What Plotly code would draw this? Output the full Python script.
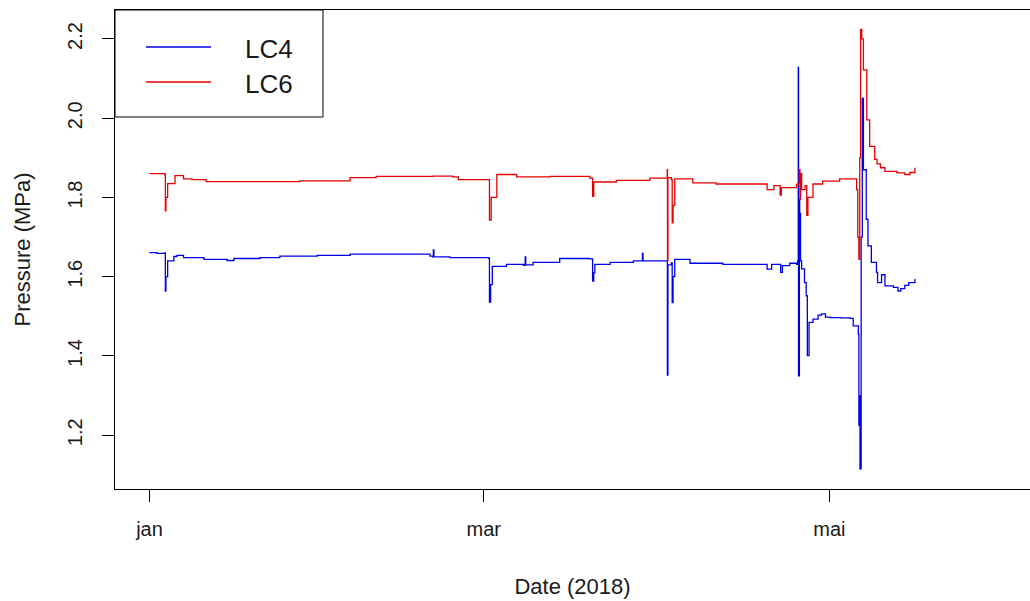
import pandas as pd
import plotly.graph_objects as go

# ---- data (days since 2018-01-01, pressure in MPa) ----
lc4_days = [0.0, 1.3, 2.7, 2.8, 2.9, 3.2, 4.3, 4.85, 6.0, 9.6, 11.9, 13.7, 14.9, 19.5, 23.0,
            29.6, 35.4, 40.7, 49.5, 50.0, 50.1, 50.2, 53.0, 59.9, 60.0, 60.2, 60.5, 63.0,
            66.0, 66.3, 66.4, 67.7, 72.4, 77.7, 78.2, 78.4, 78.6, 81.3, 85.4, 86.9, 87.0,
            87.1, 91.3, 91.4, 91.5, 92.1, 92.25, 92.4, 92.7, 95.4, 101.2, 108.3, 109.0,
            109.8, 111.4, 111.7, 113.0, 114.2, 114.4, 114.5, 114.55, 114.7, 114.75, 114.8,
            114.9, 115.1, 115.6, 115.9, 116.1, 116.4, 117.1, 118.0, 118.6, 119.3, 120.1,
            122.0, 123.6, 124.2, 125.1, 125.2, 125.3, 125.4, 125.6, 125.8, 126.0, 126.5,
            126.8, 127.4, 128.3, 128.5, 129.2, 129.8, 131.3, 132.1, 132.6, 133.3, 134.0, 135.1]
lc4_vals = [1.661, 1.659, 1.660, 1.564, 1.600, 1.640, 1.651, 1.654, 1.648, 1.644, 1.644, 1.641,
            1.646, 1.648, 1.652, 1.654, 1.657, 1.657, 1.652, 1.650, 1.668, 1.650, 1.648, 1.646,
            1.536, 1.580, 1.626, 1.631, 1.629, 1.650, 1.630, 1.636, 1.646, 1.645, 1.589, 1.610,
            1.631, 1.636, 1.640, 1.640, 1.659, 1.640, 1.640, 1.352, 1.630, 1.635, 1.535, 1.600,
            1.644, 1.634, 1.631, 1.631, 1.619, 1.631, 1.611, 1.628, 1.634, 1.631, 1.640, 2.128,
            1.350, 1.795, 1.660, 1.760, 1.640, 1.620, 1.585, 1.552, 1.401, 1.485, 1.493, 1.503,
            1.506, 1.498, 1.497, 1.496, 1.495, 1.476, 1.455, 1.225, 1.300, 1.115, 1.700, 2.050,
            1.870, 1.745, 1.678, 1.636, 1.611, 1.585, 1.605, 1.577, 1.573, 1.564, 1.570, 1.578,
            1.585, 1.594]

lc6_days = [0.0, 2.7, 2.8, 2.9, 3.2, 4.5, 6.0, 7.5, 10.0, 22.5, 26.5, 35.4, 40.0, 50.0, 53.5,
            54.5, 59.9, 60.0, 60.3, 61.3, 64.8, 70.7, 77.7, 78.2, 78.4, 82.4, 88.3, 91.3, 91.38,
            91.42, 91.5, 92.1, 92.25, 92.4, 92.7, 95.9, 100.0, 108.3, 109.0, 110.2, 111.3, 111.5,
            114.2, 114.5, 114.7, 114.8, 114.9, 115.1, 115.7, 116.0, 116.2, 117.1, 118.8, 121.8,
            123.9, 124.8, 125.0, 125.2, 125.35, 125.5, 125.7, 126.0, 126.6, 127.1, 128.0, 128.4,
            129.0, 129.8, 131.9, 133.3, 134.2, 135.1]
lc6_vals = [1.860, 1.858, 1.766, 1.800, 1.835, 1.855, 1.847, 1.845, 1.840, 1.840, 1.842, 1.850,
            1.853, 1.854, 1.852, 1.845, 1.845, 1.743, 1.800, 1.858, 1.852, 1.853, 1.849, 1.803,
            1.839, 1.843, 1.849, 1.849, 1.870, 1.640, 1.850, 1.845, 1.736, 1.780, 1.847, 1.837,
            1.834, 1.834, 1.820, 1.830, 1.806, 1.825, 1.833, 1.835, 1.870, 1.795, 1.860, 1.820,
            1.830, 1.755, 1.800, 1.834, 1.841, 1.847, 1.847, 1.820, 1.700, 1.644, 1.900, 2.224,
            2.200, 2.122, 1.996, 1.929, 1.896, 1.885, 1.875, 1.866, 1.862, 1.858, 1.863, 1.875]

series_names = ["LC4", "LC6"]
series_colors = ["#0000E6", "#E60000"]
tick_dates = ["2018-01-01", "2018-03-01", "2018-05-01"]
tick_labels = ["jan", "mar", "mai"]
y_ticks = [1.2, 1.4, 1.6, 1.8, 2.0, 2.2]

base = pd.Timestamp("2018-01-01")
def to_dates(days):
    return base + pd.to_timedelta(days, unit="D")

FONT = "Liberation Sans, Arial, sans-serif"
TXT = "#1a1a1a"

fig = go.Figure()
for name, days, vals, col in [(series_names[0], lc4_days, lc4_vals, series_colors[0]),
                              (series_names[1], lc6_days, lc6_vals, series_colors[1])]:
    fig.add_trace(go.Scatter(x=to_dates(days), y=vals, mode="lines", name=name,
                             line=dict(color=col, width=1.3, shape="hv"), showlegend=False))

W, H = 1030, 601
ML, MR, MT, MB = 115, 0, 10, 112
pw, ph = W - ML - MR, H - MT - MB

def px2paper(x, y):
    return (x - ML) / pw, (H - MB - y) / ph

x0 = base + pd.Timedelta(days=-6.09)
x1 = base + pd.Timedelta(days=155.4)

fig.update_layout(
    width=W, height=H,
    margin=dict(l=ML, r=MR, t=MT, b=MB, autoexpand=False),
    paper_bgcolor="white", plot_bgcolor="white",
    font=dict(family=FONT, color=TXT),
    xaxis=dict(type="date", range=[x0, x1], tickvals=tick_dates, ticktext=tick_labels,
               showgrid=False, zeroline=False, showline=True, mirror=True,
               linecolor="black", linewidth=1, ticks="outside", ticklen=12,
               tickcolor="black", ticklabelstandoff=10,
               tickfont=dict(size=20, family=FONT, color=TXT),
               title=dict(text="Date (2018)", font=dict(size=22, family=FONT, color=TXT),
                          standoff=39)),
    yaxis=dict(range=[1.0643, 2.2731], tickvals=y_ticks, tickformat=".1f",
               showgrid=False, zeroline=False, showline=True, mirror=False,
               linecolor="black", linewidth=1, ticks="outside", ticklen=12,
               tickcolor="black", tickangle=-90, ticklabelstandoff=12,
               tickfont=dict(size=20, family=FONT, color=TXT),
               title=dict(text="Pressure (MPa)", font=dict(size=22, family=FONT, color=TXT),
                          standoff=27)),
)

# legend drawn like R's legend box
bx0, by0 = px2paper(115, 117)
bx1, by1 = px2paper(323, 10)
fig.add_shape(type="rect", xref="paper", yref="paper", x0=bx0, y0=by0, x1=bx1, y1=by1,
              line=dict(color="black", width=1), fillcolor="white", layer="above")
for i, (name, col) in enumerate(zip(series_names, series_colors)):
    ly = 47 + 35 * i
    lx0, lyp = px2paper(146, ly)
    lx1, _ = px2paper(211, ly)
    fig.add_shape(type="line", xref="paper", yref="paper", x0=lx0, y0=lyp, x1=lx1, y1=lyp,
                  line=dict(color=col, width=1.3), layer="above")
    tx, ty = px2paper(243, ly + 2)
    fig.add_annotation(xref="paper", yref="paper", x=tx, y=ty, text=name, showarrow=False,
                       xanchor="left", yanchor="middle",
                       font=dict(size=26, family=FONT, color=TXT))

fig.write_html("out.html", config={"displayModeBar": False},
               post_script="document.body.style.margin='0px';document.body.style.overflow='hidden';")
